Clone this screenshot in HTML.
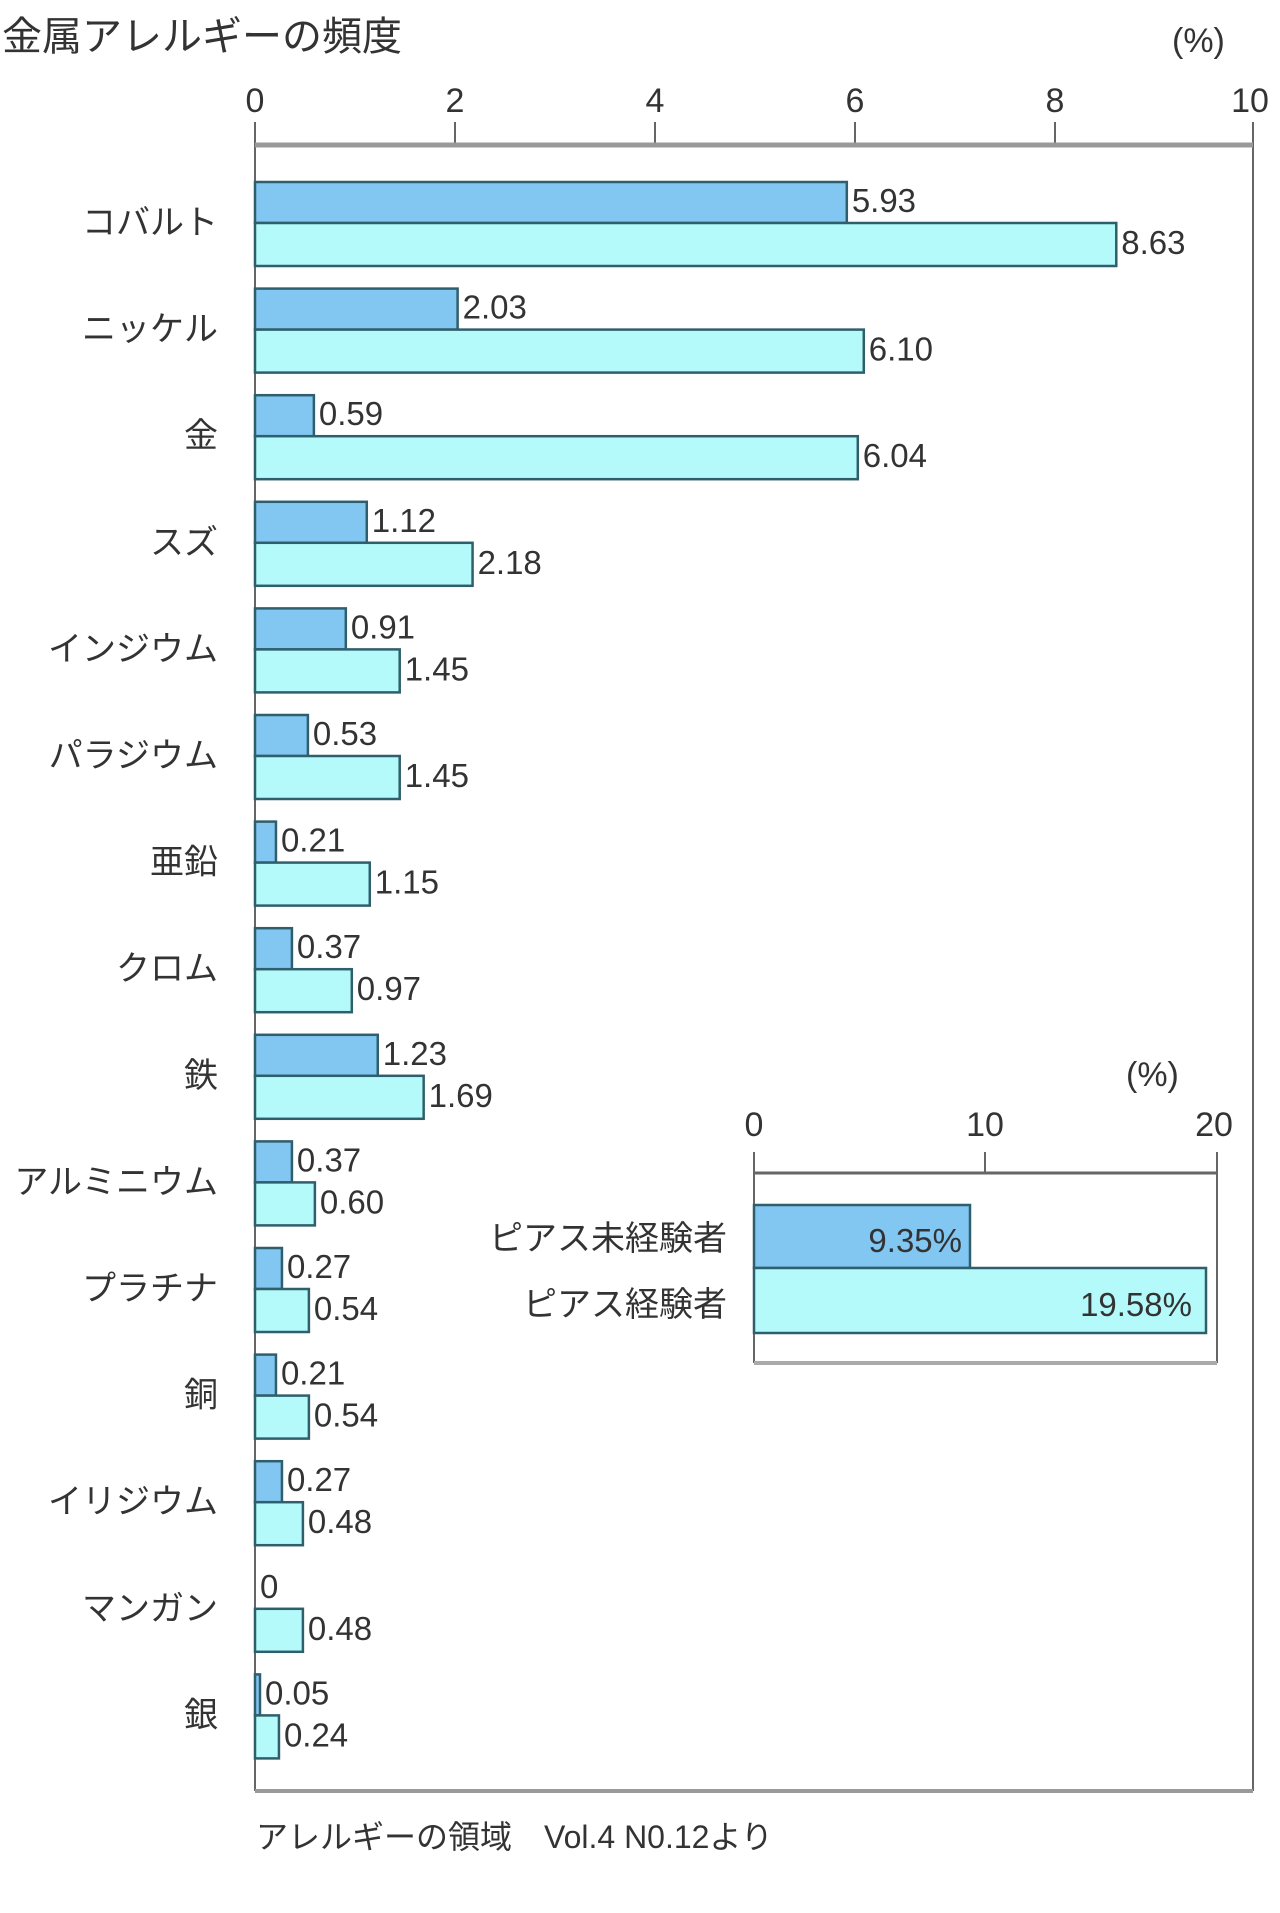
<!DOCTYPE html>
<html><head><meta charset="utf-8"><style>
html,body{margin:0;padding:0;background:#fff;}
svg{display:block;}
text{font-family:"Liberation Sans","Noto Sans CJK JP",sans-serif;fill:#333;}
</style></head><body>
<svg width="1280" height="1913" xmlns="http://www.w3.org/2000/svg">
<text x="2" y="50" font-size="40" fill="#555">金属アレルギーの頻度</text>
<text x="1172" y="52" font-size="34">(%)</text>
<g font-size="34" text-anchor="middle">
<text x="255" y="112">0</text><text x="455" y="112">2</text><text x="655" y="112">4</text>
<text x="855" y="112">6</text><text x="1055" y="112">8</text><text x="1250" y="112">10</text>
</g>
<g stroke="#666" stroke-width="2">
<line x1="455" y1="122" x2="455" y2="144"/><line x1="655" y1="122" x2="655" y2="144"/>
<line x1="855" y1="122" x2="855" y2="144"/><line x1="1055" y1="122" x2="1055" y2="144"/>
<line x1="255" y1="122" x2="255" y2="1791"/><line x1="1253" y1="122" x2="1253" y2="1791"/>
</g>
<line x1="255" y1="145" x2="1253" y2="145" stroke="#999" stroke-width="5"/>
<line x1="255" y1="1791" x2="1253" y2="1791" stroke="#999" stroke-width="4"/>
<g id="bars" stroke="#2f5f6c" stroke-width="2.5" font-size="33"></g>
<text x="256" y="1848" font-size="32">アレルギーの領域　Vol.4 N0.12より</text>

<!-- inset -->
<text x="1126" y="1086" font-size="34">(%)</text>
<g font-size="34" text-anchor="middle">
<text x="754" y="1136">0</text><text x="985" y="1136">10</text><text x="1214" y="1136">20</text>
</g>
<g stroke="#666" stroke-width="2">
<line x1="754" y1="1152" x2="754" y2="1363"/><line x1="985" y1="1152" x2="985" y2="1173"/><line x1="1217" y1="1152" x2="1217" y2="1363"/>
<line x1="754" y1="1173" x2="1217" y2="1173" stroke-width="3"/>
</g>
<line x1="754" y1="1363" x2="1217" y2="1363" stroke="#aaa" stroke-width="4"/>
<rect x="754" y="1205" width="216" height="63" fill="#82c6f2" stroke="#2f5f6c" stroke-width="2.5"/>
<rect x="754" y="1268" width="452" height="65" fill="#b4fafa" stroke="#2f5f6c" stroke-width="2.5"/>
<text x="962" y="1252" font-size="33" text-anchor="end" fill="#2f5f6c">9.35%</text>
<text x="1192" y="1316" font-size="33" text-anchor="end" fill="#2f5f6c">19.58%</text>
<text x="727" y="1250" font-size="34" text-anchor="end">ピアス未経験者</text>
<text x="727" y="1316" font-size="34" text-anchor="end">ピアス経験者</text>
</svg>
<script>
var d=[["コバルト",5.93,8.63,"5.93","8.63"],["ニッケル",2.03,6.10,"2.03","6.10"],["金",0.59,6.04,"0.59","6.04"],["スズ",1.12,2.18,"1.12","2.18"],["インジウム",0.91,1.45,"0.91","1.45"],["パラジウム",0.53,1.45,"0.53","1.45"],["亜鉛",0.21,1.15,"0.21","1.15"],["クロム",0.37,0.97,"0.37","0.97"],["鉄",1.23,1.69,"1.23","1.69"],["アルミニウム",0.37,0.60,"0.37","0.60"],["プラチナ",0.27,0.54,"0.27","0.54"],["銅",0.21,0.54,"0.21","0.54"],["イリジウム",0.27,0.48,"0.27","0.48"],["マンガン",0,0.48,"0","0.48"],["銀",0.05,0.24,"0.05","0.24"]];
var g=document.getElementById('bars'),ns="http://www.w3.org/2000/svg",s="";
d.forEach(function(r,i){var y=182+i*106.6;
s+='<rect x="255" y="'+y+'" width="'+(r[1]*99.8)+'" height="41" fill="#82c6f2"/>';
s+='<rect x="255" y="'+(y+41)+'" width="'+(r[2]*99.8)+'" height="43" fill="#b4fafa"/>';
s+='<text stroke="none" x="'+(260+r[1]*99.8)+'" y="'+(y+30)+'">'+r[3]+'</text>';
s+='<text stroke="none" x="'+(260+r[2]*99.8)+'" y="'+(y+72)+'">'+r[4]+'</text>';
s+='<text stroke="none" x="218" y="'+(y+52)+'" font-size="34" text-anchor="end">'+r[0]+'</text>';});
g.innerHTML=s;
</script>
</body></html>
